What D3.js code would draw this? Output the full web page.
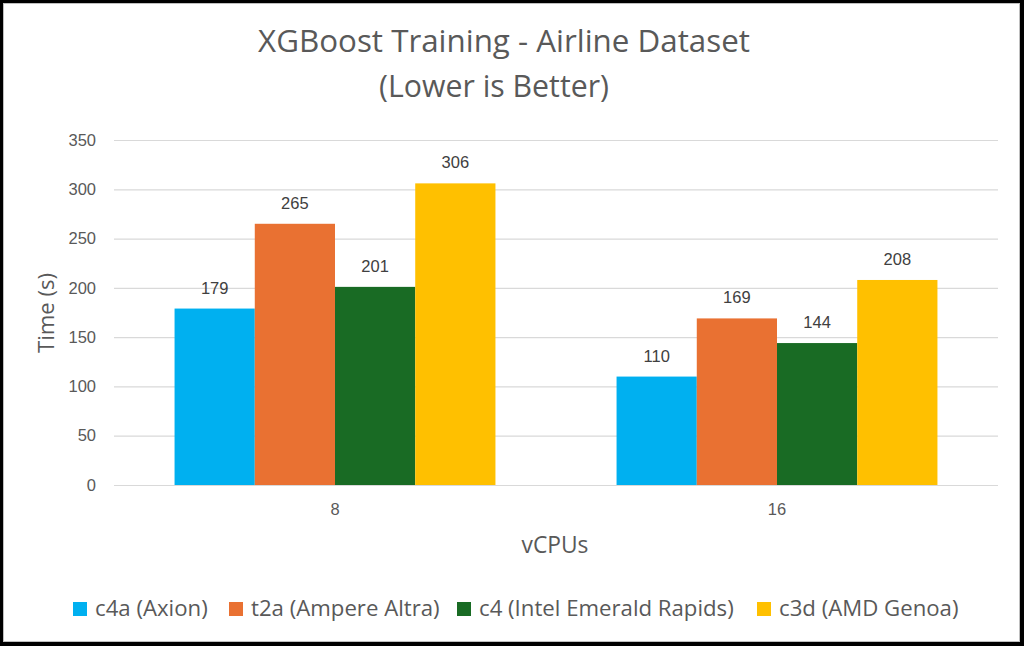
<!DOCTYPE html>
<html>
<head>
<meta charset="utf-8">
<script src="https://cdn.jsdelivr.net/npm/d3@7"></script>
<style>
  html, body { margin: 0; padding: 0; background: #000; }
  svg { display: block; }
</style>
</head>
<body>
<svg id="svg" width="1024" height="646"></svg>
<script>
// chart data
const categories = ["8", "16"];
const seriesNames = ["c4a (Axion)", "t2a (Ampere Altra)", "c4 (Intel Emerald Rapids)", "c3d (AMD Genoa)"];
const c4aValues = [179, 110];
const t2aValues = [265, 169];
const c4Values = [201, 144];
const c3dValues = [306, 208];
const yTicks = [0, 50, 100, 150, 200, 250, 300, 350];
const colors = ["#00B0F0", "#E97132", "#196B24", "#FFC000"];

const seriesValues = [c4aValues, t2aValues, c4Values, c3dValues];
const table = categories.map((c, i) => ({
  category: c,
  values: seriesNames.map((s, j) => ({ name: s, value: seriesValues[j][i], color: colors[j] }))
}));

const svg = d3.select("#svg");
const textFont = "'Open Sans', 'Noto Sans', sans-serif";
const numFont = "'Liberation Sans', Arial, sans-serif";
const gray = "#595959";

// frame
svg.append("rect").attr("width", 1024).attr("height", 646).attr("fill", "#000");
svg.append("rect")
  .attr("x", 3.5).attr("y", 3.5)
  .attr("width", 1016).attr("height", 638)
  .attr("fill", "#fff")
  .attr("stroke", "#bfbfbf");

// fit text to a target width by adjusting font size
function fit(sel, width) {
  const w = sel.node().getComputedTextLength();
  const fs = parseFloat(sel.attr("font-size"));
  sel.attr("font-size", fs * width / w);
  return sel;
}

const plotLeft = 114, plotRight = 998, plotTop = 140, plotBottom = 485;

const x0 = d3.scaleBand().domain(categories).range([plotLeft, plotRight]).paddingInner(0.274).paddingOuter(0.137);
const x1 = d3.scaleBand().domain(seriesNames).range([0, x0.bandwidth()]).padding(0);
const y = d3.scaleLinear().domain([0, 350]).range([plotBottom, plotTop]);

// title
fit(svg.append("text")
  .attr("x", 504).attr("y", 52)
  .attr("text-anchor", "middle")
  .attr("font-family", textFont).attr("font-size", 31)
  .attr("fill", gray)
  .text("XGBoost Training - Airline Dataset"), 492);
fit(svg.append("text")
  .attr("x", 494).attr("y", 97)
  .attr("text-anchor", "middle")
  .attr("font-family", textFont).attr("font-size", 31)
  .attr("fill", gray)
  .text("(Lower is Better)"), 230);

// y gridlines + labels
const yAxis = svg.append("g")
  .attr("transform", `translate(${plotLeft},0)`)
  .call(d3.axisLeft(y).tickValues(yTicks).tickSize(-(plotRight - plotLeft)).tickPadding(18));
yAxis.select(".domain").remove();
yAxis.selectAll(".tick line").attr("stroke", "#d9d9d9").attr("stroke-width", 1.2);
yAxis.selectAll(".tick text")
  .attr("font-family", numFont).attr("font-size", 16.5).attr("fill", gray);

// x axis
const xAxis = svg.append("g")
  .attr("transform", `translate(0,${plotBottom})`)
  .call(d3.axisBottom(x0).tickSize(0).tickPadding(18));
xAxis.select(".domain").remove();
xAxis.selectAll(".tick text")
  .attr("font-family", numFont).attr("font-size", 16.5).attr("fill", gray);

// bars
const groups = svg.append("g").selectAll("g")
  .data(table)
  .join("g")
  .attr("transform", d => `translate(${x0(d.category)},0)`);

groups.selectAll("rect")
  .data(d => d.values)
  .join("rect")
  .attr("x", d => x1(d.name))
  .attr("y", d => y(d.value))
  .attr("width", x1.bandwidth())
  .attr("height", d => y(0) - y(d.value))
  .attr("fill", d => d.color);

groups.selectAll("text")
  .data(d => d.values)
  .join("text")
  .attr("x", d => x1(d.name) + x1.bandwidth() / 2)
  .attr("y", d => y(d.value) - 15)
  .attr("text-anchor", "middle")
  .attr("font-family", numFont).attr("font-size", 16.5)
  .attr("fill", "#404040")
  .text(d => d.value);

// axis titles
fit(svg.append("text")
  .attr("transform", `translate(54,313) rotate(-90)`)
  .attr("text-anchor", "middle")
  .attr("font-family", textFont).attr("font-size", 20)
  .attr("fill", gray)
  .text("Time (s)"), 80);

fit(svg.append("text")
  .attr("x", 555).attr("y", 553)
  .attr("text-anchor", "middle")
  .attr("font-family", textFont).attr("font-size", 20)
  .attr("fill", gray)
  .text("vCPUs"), 67);

// legend
const legendX = [73, 229, 457, 757];
const legend = svg.append("g").selectAll("g")
  .data(seriesNames)
  .join("g")
  .attr("transform", (d, i) => `translate(${legendX[i]},602)`);
legend.append("rect")
  .attr("width", 14).attr("height", 14)
  .attr("fill", (d, i) => colors[i]);
const legendText = legend.append("text")
  .attr("x", 22).attr("y", 14)
  .attr("font-family", textFont).attr("font-size", 20)
  .attr("fill", gray)
  .text(d => d);
// one shared size so the row spans the same width as the reference
const totalW = d3.sum(legendText.nodes(), n => n.getComputedTextLength());
legendText.attr("font-size", 20 * 736 / totalW);
</script>
</body>
</html>
